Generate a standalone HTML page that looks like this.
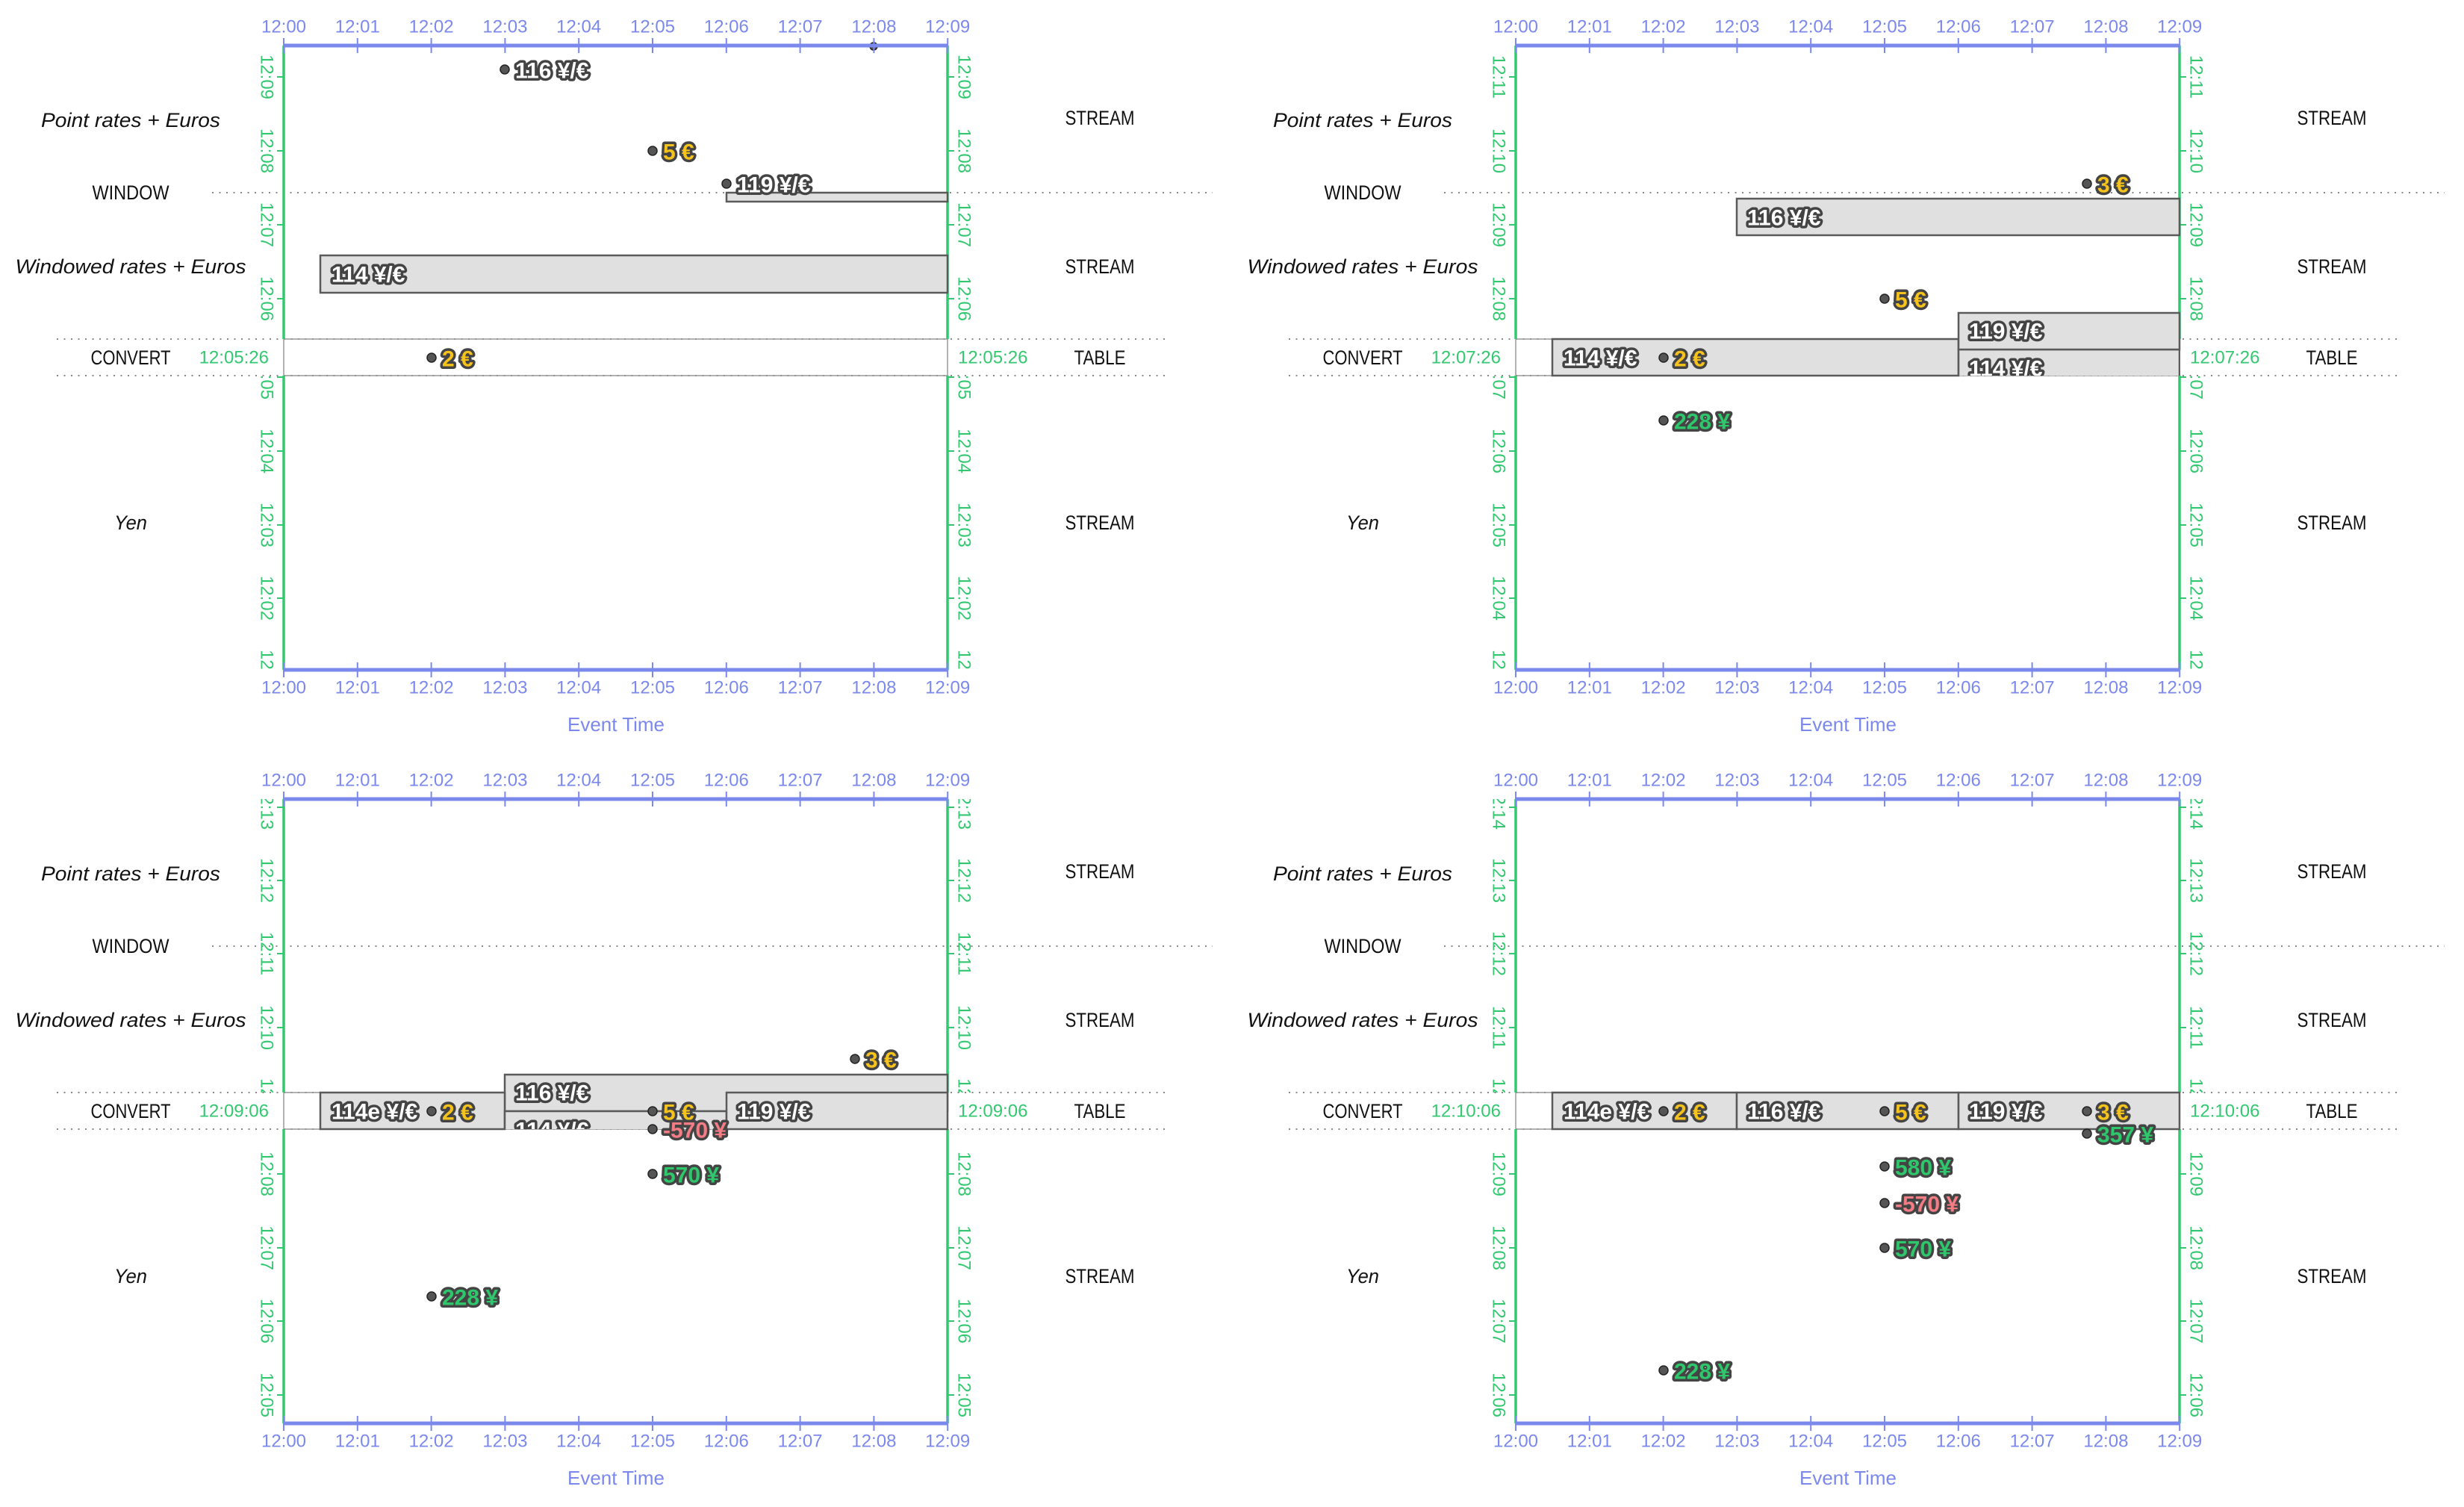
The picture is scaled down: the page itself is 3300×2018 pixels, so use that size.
<!DOCTYPE html>
<html><head><meta charset="utf-8"><style>
html,body{margin:0;padding:0;background:#fff}
svg{display:block}
text{font-family:"Liberation Sans",sans-serif}
.tl{font-size:24px;fill:#7b88ec;text-anchor:middle;dominant-baseline:central}
.gl{font-size:24px;fill:#33c870;text-anchor:middle;dominant-baseline:central}
.gt{font-size:24px;fill:#33c870;dominant-baseline:central}
.rl{font-size:27px;fill:#111;text-anchor:middle;dominant-baseline:central}
.it{font-style:italic}
.v{font-size:30px;font-weight:bold;dominant-baseline:central;paint-order:stroke;stroke:#444;stroke-width:7;stroke-linejoin:round}
.w{fill:#fff}.y{fill:#f6c21c}.g{fill:#2fc76c}.r{fill:#f47c84}
.dot{fill:#555;stroke:#222;stroke-width:1.5}
.box{fill:#e0e0e0;stroke:#5a5a5a;stroke-width:2.5}
.dl{stroke:#888;stroke-width:2;stroke-dasharray:2 7.5}
.bl{stroke:#7b88ec}
.gr{stroke:#33c870}
</style></head><body>
<svg width="3300" height="2018" viewBox="0 0 3300 2018" xmlns="http://www.w3.org/2000/svg">
<defs>
<clipPath id="cu" clipPathUnits="userSpaceOnUse"><rect x="280" y="61" width="1120" height="393"/></clipPath>
<clipPath id="cl" clipPathUnits="userSpaceOnUse"><rect x="280" y="503" width="1120" height="394"/></clipPath>
<clipPath id="cb" clipPathUnits="userSpaceOnUse"><rect x="380" y="380" width="890" height="123"/></clipPath>
</defs>

<!-- ================= PANEL TL ================= -->
<g transform="translate(0,0)">
<text class="rl it" x="175" y="161" textLength="240" lengthAdjust="spacingAndGlyphs">Point rates + Euros</text>
<text class="rl" x="175" y="258" textLength="103" lengthAdjust="spacingAndGlyphs">WINDOW</text>
<text class="rl it" x="175" y="357" textLength="309" lengthAdjust="spacingAndGlyphs">Windowed rates + Euros</text>
<text class="rl" x="175" y="479" textLength="107" lengthAdjust="spacingAndGlyphs">CONVERT</text>
<text class="rl it" x="175" y="700" textLength="44" lengthAdjust="spacingAndGlyphs">Yen</text>
<text class="rl" x="1473" y="158" textLength="93" lengthAdjust="spacingAndGlyphs">STREAM</text>
<text class="rl" x="1473" y="357" textLength="93" lengthAdjust="spacingAndGlyphs">STREAM</text>
<text class="rl" x="1473" y="479" textLength="69" lengthAdjust="spacingAndGlyphs">TABLE</text>
<text class="rl" x="1473" y="700" textLength="93" lengthAdjust="spacingAndGlyphs">STREAM</text>
<line class="dl" x1="284" y1="258" x2="1624" y2="258"/>
<line class="dl" x1="76" y1="454" x2="1565" y2="454"/>
<line class="dl" x1="76" y1="503" x2="1565" y2="503"/>
<rect x="380" y="454" width="889" height="49" fill="none" stroke="#999" stroke-width="1.5"/>
<text class="gt" x="360" y="479" text-anchor="end">12:05:26</text>
<text class="gt" x="1283" y="479">12:05:26</text>
<line class="gr" x1="380" y1="61" x2="380" y2="454" stroke-width="3.5"/>
<line class="gr" x1="1269" y1="61" x2="1269" y2="454" stroke-width="3.5"/>
<line class="gr" x1="380" y1="503" x2="380" y2="897" stroke-width="3.5"/>
<line class="gr" x1="1269" y1="503" x2="1269" y2="897" stroke-width="3.5"/>
<g clip-path="url(#cu)">
<path class="gr" stroke-width="2" d="M371 103H380M371 202H380M371 301H380M371 400H380M1269 103H1278M1269 202H1278M1269 301H1278M1269 400H1278"/>
<text class="gl" transform="translate(357,103) rotate(90)">12:09</text><text class="gl" transform="translate(357,202) rotate(90)">12:08</text><text class="gl" transform="translate(357,301) rotate(90)">12:07</text><text class="gl" transform="translate(357,400) rotate(90)">12:06</text>
<text class="gl" transform="translate(1291,103) rotate(90)">12:09</text><text class="gl" transform="translate(1291,202) rotate(90)">12:08</text><text class="gl" transform="translate(1291,301) rotate(90)">12:07</text><text class="gl" transform="translate(1291,400) rotate(90)">12:06</text>
</g>
<g clip-path="url(#cl)">
<path class="gr" stroke-width="2" d="M371 505H380M371 604H380M371 703H380M371 801H380M371 900H380M1269 505H1278M1269 604H1278M1269 703H1278M1269 801H1278M1269 900H1278"/>
<text class="gl" transform="translate(357,505) rotate(90)">12:05</text><text class="gl" transform="translate(357,604) rotate(90)">12:04</text><text class="gl" transform="translate(357,703) rotate(90)">12:03</text><text class="gl" transform="translate(357,801) rotate(90)">12:02</text><text class="gl" transform="translate(357,900) rotate(90)">12:01</text>
<text class="gl" transform="translate(1291,505) rotate(90)">12:05</text><text class="gl" transform="translate(1291,604) rotate(90)">12:04</text><text class="gl" transform="translate(1291,703) rotate(90)">12:03</text><text class="gl" transform="translate(1291,801) rotate(90)">12:02</text><text class="gl" transform="translate(1291,900) rotate(90)">12:01</text>
</g>
<circle class="dot" cx="1170" cy="62" r="5"/>
<rect class="box" x="973" y="258" width="296" height="12"/>
<rect class="box" x="429" y="342" width="840" height="50"/>
<text class="v w" x="444" y="368">114 ¥/€</text>
<circle class="dot" cx="676" cy="93" r="6"/><text class="v w" x="690" y="95">116 ¥/€</text>
<circle class="dot" cx="874" cy="202" r="6"/><text class="v y" x="888" y="204">5 €</text>
<circle class="dot" cx="973" cy="246" r="6"/><text class="v w" x="987" y="248">119 ¥/€</text>
<circle class="dot" cx="578" cy="479" r="6"/><text class="v y" x="592" y="481">2 €</text>
<line class="bl" x1="380" y1="61" x2="1269" y2="61" stroke-width="5"/>
<line class="bl" x1="380" y1="897" x2="1269" y2="897" stroke-width="5"/>
<path class="bl" stroke-width="2" d="M380 51V71M478.8 51V71M577.6 51V71M676.4 51V71M775.2 51V71M874 51V71M972.8 51V71M1071.6 51V71M1170.4 51V71M1269.2 51V71M380 887V907M478.8 887V907M577.6 887V907M676.4 887V907M775.2 887V907M874 887V907M972.8 887V907M1071.6 887V907M1170.4 887V907M1269.2 887V907"/>
<text class="tl" x="380" y="36">12:00</text><text class="tl" x="478.8" y="36">12:01</text><text class="tl" x="577.6" y="36">12:02</text><text class="tl" x="676.4" y="36">12:03</text><text class="tl" x="775.2" y="36">12:04</text><text class="tl" x="874" y="36">12:05</text><text class="tl" x="972.8" y="36">12:06</text><text class="tl" x="1071.6" y="36">12:07</text><text class="tl" x="1170.4" y="36">12:08</text><text class="tl" x="1269.2" y="36">12:09</text>
<text class="tl" x="380" y="921">12:00</text><text class="tl" x="478.8" y="921">12:01</text><text class="tl" x="577.6" y="921">12:02</text><text class="tl" x="676.4" y="921">12:03</text><text class="tl" x="775.2" y="921">12:04</text><text class="tl" x="874" y="921">12:05</text><text class="tl" x="972.8" y="921">12:06</text><text class="tl" x="1071.6" y="921">12:07</text><text class="tl" x="1170.4" y="921">12:08</text><text class="tl" x="1269.2" y="921">12:09</text>
<text class="tl" x="825" y="970" style="font-size:26px" textLength="130" lengthAdjust="spacingAndGlyphs">Event Time</text>
</g>

<!-- ================= PANEL TR ================= -->
<g transform="translate(1650,0)">
<text class="rl it" x="175" y="161" textLength="240" lengthAdjust="spacingAndGlyphs">Point rates + Euros</text>
<text class="rl" x="175" y="258" textLength="103" lengthAdjust="spacingAndGlyphs">WINDOW</text>
<text class="rl it" x="175" y="357" textLength="309" lengthAdjust="spacingAndGlyphs">Windowed rates + Euros</text>
<text class="rl" x="175" y="479" textLength="107" lengthAdjust="spacingAndGlyphs">CONVERT</text>
<text class="rl it" x="175" y="700" textLength="44" lengthAdjust="spacingAndGlyphs">Yen</text>
<text class="rl" x="1473" y="158" textLength="93" lengthAdjust="spacingAndGlyphs">STREAM</text>
<text class="rl" x="1473" y="357" textLength="93" lengthAdjust="spacingAndGlyphs">STREAM</text>
<text class="rl" x="1473" y="479" textLength="69" lengthAdjust="spacingAndGlyphs">TABLE</text>
<text class="rl" x="1473" y="700" textLength="93" lengthAdjust="spacingAndGlyphs">STREAM</text>
<line class="dl" x1="284" y1="258" x2="1624" y2="258"/>
<line class="dl" x1="76" y1="454" x2="1565" y2="454"/>
<line class="dl" x1="76" y1="503" x2="1565" y2="503"/>
<rect x="380" y="454" width="889" height="49" fill="none" stroke="#999" stroke-width="1.5"/>
<text class="gt" x="360" y="479" text-anchor="end">12:07:26</text>
<text class="gt" x="1283" y="479">12:07:26</text>
<line class="gr" x1="380" y1="61" x2="380" y2="454" stroke-width="3.5"/>
<line class="gr" x1="1269" y1="61" x2="1269" y2="454" stroke-width="3.5"/>
<line class="gr" x1="380" y1="503" x2="380" y2="897" stroke-width="3.5"/>
<line class="gr" x1="1269" y1="503" x2="1269" y2="897" stroke-width="3.5"/>
<g clip-path="url(#cu)">
<path class="gr" stroke-width="2" d="M371 103H380M371 202H380M371 301H380M371 400H380M1269 103H1278M1269 202H1278M1269 301H1278M1269 400H1278"/>
<text class="gl" transform="translate(357,103) rotate(90)">12:11</text><text class="gl" transform="translate(357,202) rotate(90)">12:10</text><text class="gl" transform="translate(357,301) rotate(90)">12:09</text><text class="gl" transform="translate(357,400) rotate(90)">12:08</text>
<text class="gl" transform="translate(1291,103) rotate(90)">12:11</text><text class="gl" transform="translate(1291,202) rotate(90)">12:10</text><text class="gl" transform="translate(1291,301) rotate(90)">12:09</text><text class="gl" transform="translate(1291,400) rotate(90)">12:08</text>
</g>
<g clip-path="url(#cl)">
<path class="gr" stroke-width="2" d="M371 505H380M371 604H380M371 703H380M371 801H380M371 900H380M1269 505H1278M1269 604H1278M1269 703H1278M1269 801H1278M1269 900H1278"/>
<text class="gl" transform="translate(357,505) rotate(90)">12:07</text><text class="gl" transform="translate(357,604) rotate(90)">12:06</text><text class="gl" transform="translate(357,703) rotate(90)">12:05</text><text class="gl" transform="translate(357,801) rotate(90)">12:04</text><text class="gl" transform="translate(357,900) rotate(90)">12:03</text>
<text class="gl" transform="translate(1291,505) rotate(90)">12:07</text><text class="gl" transform="translate(1291,604) rotate(90)">12:06</text><text class="gl" transform="translate(1291,703) rotate(90)">12:05</text><text class="gl" transform="translate(1291,801) rotate(90)">12:04</text><text class="gl" transform="translate(1291,900) rotate(90)">12:03</text>
</g>
<rect class="box" x="676" y="266" width="593" height="49"/>
<text class="v w" x="690" y="292">116 ¥/€</text>
<rect class="box" x="429" y="454" width="544" height="49"/>
<text class="v w" x="444" y="480">114 ¥/€</text>
<g clip-path="url(#cb)">
<rect class="box" x="973" y="468" width="296" height="49"/>
<text class="v w" x="987" y="494">114 ¥/€</text>
</g>
<rect class="box" x="973" y="419" width="296" height="49"/>
<text class="v w" x="987" y="444">119 ¥/€</text>
<circle class="dot" cx="1145" cy="246" r="6"/><text class="v y" x="1159" y="248">3 €</text>
<circle class="dot" cx="874" cy="400" r="6"/><text class="v y" x="888" y="402">5 €</text>
<circle class="dot" cx="578" cy="479" r="6"/><text class="v y" x="592" y="481">2 €</text>
<circle class="dot" cx="578" cy="563" r="6"/><text class="v g" x="592" y="565">228 ¥</text>
<line class="bl" x1="380" y1="61" x2="1269" y2="61" stroke-width="5"/>
<line class="bl" x1="380" y1="897" x2="1269" y2="897" stroke-width="5"/>
<path class="bl" stroke-width="2" d="M380 51V71M478.8 51V71M577.6 51V71M676.4 51V71M775.2 51V71M874 51V71M972.8 51V71M1071.6 51V71M1170.4 51V71M1269.2 51V71M380 887V907M478.8 887V907M577.6 887V907M676.4 887V907M775.2 887V907M874 887V907M972.8 887V907M1071.6 887V907M1170.4 887V907M1269.2 887V907"/>
<text class="tl" x="380" y="36">12:00</text><text class="tl" x="478.8" y="36">12:01</text><text class="tl" x="577.6" y="36">12:02</text><text class="tl" x="676.4" y="36">12:03</text><text class="tl" x="775.2" y="36">12:04</text><text class="tl" x="874" y="36">12:05</text><text class="tl" x="972.8" y="36">12:06</text><text class="tl" x="1071.6" y="36">12:07</text><text class="tl" x="1170.4" y="36">12:08</text><text class="tl" x="1269.2" y="36">12:09</text>
<text class="tl" x="380" y="921">12:00</text><text class="tl" x="478.8" y="921">12:01</text><text class="tl" x="577.6" y="921">12:02</text><text class="tl" x="676.4" y="921">12:03</text><text class="tl" x="775.2" y="921">12:04</text><text class="tl" x="874" y="921">12:05</text><text class="tl" x="972.8" y="921">12:06</text><text class="tl" x="1071.6" y="921">12:07</text><text class="tl" x="1170.4" y="921">12:08</text><text class="tl" x="1269.2" y="921">12:09</text>
<text class="tl" x="825" y="970" style="font-size:26px" textLength="130" lengthAdjust="spacingAndGlyphs">Event Time</text>
</g>

<!-- ================= PANEL BL ================= -->
<g transform="translate(0,1009)">
<text class="rl it" x="175" y="161" textLength="240" lengthAdjust="spacingAndGlyphs">Point rates + Euros</text>
<text class="rl" x="175" y="258" textLength="103" lengthAdjust="spacingAndGlyphs">WINDOW</text>
<text class="rl it" x="175" y="357" textLength="309" lengthAdjust="spacingAndGlyphs">Windowed rates + Euros</text>
<text class="rl" x="175" y="479" textLength="107" lengthAdjust="spacingAndGlyphs">CONVERT</text>
<text class="rl it" x="175" y="700" textLength="44" lengthAdjust="spacingAndGlyphs">Yen</text>
<text class="rl" x="1473" y="158" textLength="93" lengthAdjust="spacingAndGlyphs">STREAM</text>
<text class="rl" x="1473" y="357" textLength="93" lengthAdjust="spacingAndGlyphs">STREAM</text>
<text class="rl" x="1473" y="479" textLength="69" lengthAdjust="spacingAndGlyphs">TABLE</text>
<text class="rl" x="1473" y="700" textLength="93" lengthAdjust="spacingAndGlyphs">STREAM</text>
<line class="dl" x1="284" y1="258" x2="1624" y2="258"/>
<line class="dl" x1="76" y1="454" x2="1565" y2="454"/>
<line class="dl" x1="76" y1="503" x2="1565" y2="503"/>
<rect x="380" y="454" width="889" height="49" fill="none" stroke="#999" stroke-width="1.5"/>
<text class="gt" x="360" y="479" text-anchor="end">12:09:06</text>
<text class="gt" x="1283" y="479">12:09:06</text>
<line class="gr" x1="380" y1="61" x2="380" y2="454" stroke-width="3.5"/>
<line class="gr" x1="1269" y1="61" x2="1269" y2="454" stroke-width="3.5"/>
<line class="gr" x1="380" y1="503" x2="380" y2="897" stroke-width="3.5"/>
<line class="gr" x1="1269" y1="503" x2="1269" y2="897" stroke-width="3.5"/>
<g clip-path="url(#cu)">
<path class="gr" stroke-width="2" d="M371 72H380M371 170H380M371 268H380M371 367H380M1269 72H1278M1269 170H1278M1269 268H1278M1269 367H1278"/>
<text class="gl" transform="translate(357,72) rotate(90)">12:13</text><text class="gl" transform="translate(357,170) rotate(90)">12:12</text><text class="gl" transform="translate(357,268) rotate(90)">12:11</text><text class="gl" transform="translate(357,367) rotate(90)">12:10</text><text class="gl" transform="translate(357,465) rotate(90)">12:09</text>
<text class="gl" transform="translate(1291,72) rotate(90)">12:13</text><text class="gl" transform="translate(1291,170) rotate(90)">12:12</text><text class="gl" transform="translate(1291,268) rotate(90)">12:11</text><text class="gl" transform="translate(1291,367) rotate(90)">12:10</text><text class="gl" transform="translate(1291,465) rotate(90)">12:09</text>
</g>
<g clip-path="url(#cl)">
<path class="gr" stroke-width="2" d="M371 563H380M371 662H380M371 760H380M371 859H380M1269 563H1278M1269 662H1278M1269 760H1278M1269 859H1278"/>
<text class="gl" transform="translate(357,563) rotate(90)">12:08</text><text class="gl" transform="translate(357,662) rotate(90)">12:07</text><text class="gl" transform="translate(357,760) rotate(90)">12:06</text><text class="gl" transform="translate(357,859) rotate(90)">12:05</text>
<text class="gl" transform="translate(1291,563) rotate(90)">12:08</text><text class="gl" transform="translate(1291,662) rotate(90)">12:07</text><text class="gl" transform="translate(1291,760) rotate(90)">12:06</text><text class="gl" transform="translate(1291,859) rotate(90)">12:05</text>
</g>
<rect class="box" x="676" y="430" width="593" height="49"/>
<text class="v w" x="690" y="455">116 ¥/€</text>
<rect class="box" x="429" y="454" width="247" height="49"/>
<text class="v w" x="444" y="480">114e ¥/€</text>
<g clip-path="url(#cb)">
<rect class="box" x="676" y="479" width="297" height="49"/>
<text class="v w" x="690" y="505">114 ¥/€</text>
</g>
<rect class="box" x="973" y="454" width="296" height="49"/>
<text class="v w" x="987" y="480">119 ¥/€</text>
<circle class="dot" cx="1145" cy="409" r="6"/><text class="v y" x="1159" y="411">3 €</text>
<circle class="dot" cx="578" cy="479" r="6"/><text class="v y" x="592" y="481">2 €</text>
<circle class="dot" cx="874" cy="479" r="6"/><text class="v y" x="888" y="481">5 €</text>
<circle class="dot" cx="874" cy="503" r="6"/><text class="v r" x="888" y="505">-570 ¥</text>
<circle class="dot" cx="874" cy="563" r="6"/><text class="v g" x="888" y="565">570 ¥</text>
<circle class="dot" cx="578" cy="727" r="6"/><text class="v g" x="592" y="729">228 ¥</text>
<line class="bl" x1="380" y1="61" x2="1269" y2="61" stroke-width="5"/>
<line class="bl" x1="380" y1="897" x2="1269" y2="897" stroke-width="5"/>
<path class="bl" stroke-width="2" d="M380 51V71M478.8 51V71M577.6 51V71M676.4 51V71M775.2 51V71M874 51V71M972.8 51V71M1071.6 51V71M1170.4 51V71M1269.2 51V71M380 887V907M478.8 887V907M577.6 887V907M676.4 887V907M775.2 887V907M874 887V907M972.8 887V907M1071.6 887V907M1170.4 887V907M1269.2 887V907"/>
<text class="tl" x="380" y="36">12:00</text><text class="tl" x="478.8" y="36">12:01</text><text class="tl" x="577.6" y="36">12:02</text><text class="tl" x="676.4" y="36">12:03</text><text class="tl" x="775.2" y="36">12:04</text><text class="tl" x="874" y="36">12:05</text><text class="tl" x="972.8" y="36">12:06</text><text class="tl" x="1071.6" y="36">12:07</text><text class="tl" x="1170.4" y="36">12:08</text><text class="tl" x="1269.2" y="36">12:09</text>
<text class="tl" x="380" y="921">12:00</text><text class="tl" x="478.8" y="921">12:01</text><text class="tl" x="577.6" y="921">12:02</text><text class="tl" x="676.4" y="921">12:03</text><text class="tl" x="775.2" y="921">12:04</text><text class="tl" x="874" y="921">12:05</text><text class="tl" x="972.8" y="921">12:06</text><text class="tl" x="1071.6" y="921">12:07</text><text class="tl" x="1170.4" y="921">12:08</text><text class="tl" x="1269.2" y="921">12:09</text>
<text class="tl" x="825" y="970" style="font-size:26px" textLength="130" lengthAdjust="spacingAndGlyphs">Event Time</text>
</g>

<!-- ================= PANEL BR ================= -->
<g transform="translate(1650,1009)">
<text class="rl it" x="175" y="161" textLength="240" lengthAdjust="spacingAndGlyphs">Point rates + Euros</text>
<text class="rl" x="175" y="258" textLength="103" lengthAdjust="spacingAndGlyphs">WINDOW</text>
<text class="rl it" x="175" y="357" textLength="309" lengthAdjust="spacingAndGlyphs">Windowed rates + Euros</text>
<text class="rl" x="175" y="479" textLength="107" lengthAdjust="spacingAndGlyphs">CONVERT</text>
<text class="rl it" x="175" y="700" textLength="44" lengthAdjust="spacingAndGlyphs">Yen</text>
<text class="rl" x="1473" y="158" textLength="93" lengthAdjust="spacingAndGlyphs">STREAM</text>
<text class="rl" x="1473" y="357" textLength="93" lengthAdjust="spacingAndGlyphs">STREAM</text>
<text class="rl" x="1473" y="479" textLength="69" lengthAdjust="spacingAndGlyphs">TABLE</text>
<text class="rl" x="1473" y="700" textLength="93" lengthAdjust="spacingAndGlyphs">STREAM</text>
<line class="dl" x1="284" y1="258" x2="1624" y2="258"/>
<line class="dl" x1="76" y1="454" x2="1565" y2="454"/>
<line class="dl" x1="76" y1="503" x2="1565" y2="503"/>
<rect x="380" y="454" width="889" height="49" fill="none" stroke="#999" stroke-width="1.5"/>
<text class="gt" x="360" y="479" text-anchor="end">12:10:06</text>
<text class="gt" x="1283" y="479">12:10:06</text>
<line class="gr" x1="380" y1="61" x2="380" y2="454" stroke-width="3.5"/>
<line class="gr" x1="1269" y1="61" x2="1269" y2="454" stroke-width="3.5"/>
<line class="gr" x1="380" y1="503" x2="380" y2="897" stroke-width="3.5"/>
<line class="gr" x1="1269" y1="503" x2="1269" y2="897" stroke-width="3.5"/>
<g clip-path="url(#cu)">
<path class="gr" stroke-width="2" d="M371 72H380M371 170H380M371 268H380M371 367H380M1269 72H1278M1269 170H1278M1269 268H1278M1269 367H1278"/>
<text class="gl" transform="translate(357,72) rotate(90)">12:14</text><text class="gl" transform="translate(357,170) rotate(90)">12:13</text><text class="gl" transform="translate(357,268) rotate(90)">12:12</text><text class="gl" transform="translate(357,367) rotate(90)">12:11</text><text class="gl" transform="translate(357,465) rotate(90)">12:10</text>
<text class="gl" transform="translate(1291,72) rotate(90)">12:14</text><text class="gl" transform="translate(1291,170) rotate(90)">12:13</text><text class="gl" transform="translate(1291,268) rotate(90)">12:12</text><text class="gl" transform="translate(1291,367) rotate(90)">12:11</text><text class="gl" transform="translate(1291,465) rotate(90)">12:10</text>
</g>
<g clip-path="url(#cl)">
<path class="gr" stroke-width="2" d="M371 563H380M371 662H380M371 760H380M371 859H380M1269 563H1278M1269 662H1278M1269 760H1278M1269 859H1278"/>
<text class="gl" transform="translate(357,563) rotate(90)">12:09</text><text class="gl" transform="translate(357,662) rotate(90)">12:08</text><text class="gl" transform="translate(357,760) rotate(90)">12:07</text><text class="gl" transform="translate(357,859) rotate(90)">12:06</text>
<text class="gl" transform="translate(1291,563) rotate(90)">12:09</text><text class="gl" transform="translate(1291,662) rotate(90)">12:08</text><text class="gl" transform="translate(1291,760) rotate(90)">12:07</text><text class="gl" transform="translate(1291,859) rotate(90)">12:06</text>
</g>
<rect class="box" x="429" y="454" width="247" height="49"/>
<text class="v w" x="444" y="480">114e ¥/€</text>
<rect class="box" x="676" y="454" width="297" height="49"/>
<text class="v w" x="690" y="480">116 ¥/€</text>
<rect class="box" x="973" y="454" width="296" height="49"/>
<text class="v w" x="987" y="480">119 ¥/€</text>
<circle class="dot" cx="578" cy="479" r="6"/><text class="v y" x="592" y="481">2 €</text>
<circle class="dot" cx="874" cy="479" r="6"/><text class="v y" x="888" y="481">5 €</text>
<circle class="dot" cx="1145" cy="479" r="6"/><text class="v y" x="1159" y="481">3 €</text>
<circle class="dot" cx="1145" cy="509" r="6"/><text class="v g" x="1159" y="511">357 ¥</text>
<circle class="dot" cx="874" cy="553" r="6"/><text class="v g" x="888" y="555">580 ¥</text>
<circle class="dot" cx="874" cy="602" r="6"/><text class="v r" x="888" y="604">-570 ¥</text>
<circle class="dot" cx="874" cy="662" r="6"/><text class="v g" x="888" y="664">570 ¥</text>
<circle class="dot" cx="578" cy="826" r="6"/><text class="v g" x="592" y="828">228 ¥</text>
<line class="bl" x1="380" y1="61" x2="1269" y2="61" stroke-width="5"/>
<line class="bl" x1="380" y1="897" x2="1269" y2="897" stroke-width="5"/>
<path class="bl" stroke-width="2" d="M380 51V71M478.8 51V71M577.6 51V71M676.4 51V71M775.2 51V71M874 51V71M972.8 51V71M1071.6 51V71M1170.4 51V71M1269.2 51V71M380 887V907M478.8 887V907M577.6 887V907M676.4 887V907M775.2 887V907M874 887V907M972.8 887V907M1071.6 887V907M1170.4 887V907M1269.2 887V907"/>
<text class="tl" x="380" y="36">12:00</text><text class="tl" x="478.8" y="36">12:01</text><text class="tl" x="577.6" y="36">12:02</text><text class="tl" x="676.4" y="36">12:03</text><text class="tl" x="775.2" y="36">12:04</text><text class="tl" x="874" y="36">12:05</text><text class="tl" x="972.8" y="36">12:06</text><text class="tl" x="1071.6" y="36">12:07</text><text class="tl" x="1170.4" y="36">12:08</text><text class="tl" x="1269.2" y="36">12:09</text>
<text class="tl" x="380" y="921">12:00</text><text class="tl" x="478.8" y="921">12:01</text><text class="tl" x="577.6" y="921">12:02</text><text class="tl" x="676.4" y="921">12:03</text><text class="tl" x="775.2" y="921">12:04</text><text class="tl" x="874" y="921">12:05</text><text class="tl" x="972.8" y="921">12:06</text><text class="tl" x="1071.6" y="921">12:07</text><text class="tl" x="1170.4" y="921">12:08</text><text class="tl" x="1269.2" y="921">12:09</text>
<text class="tl" x="825" y="970" style="font-size:26px" textLength="130" lengthAdjust="spacingAndGlyphs">Event Time</text>
</g>
</svg>
</body></html>
